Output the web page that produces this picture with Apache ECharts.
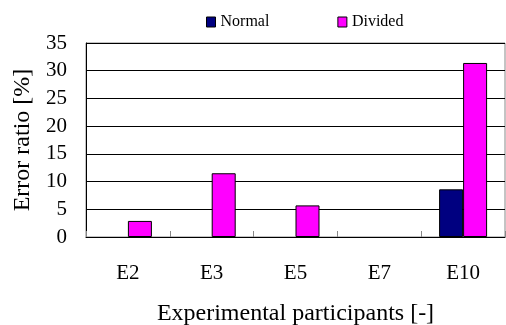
<!DOCTYPE html>
<html>
<head>
<meta charset="utf-8">
<script src="https://cdn.jsdelivr.net/npm/echarts@6/dist/echarts.min.js"></script>
<style>
html,body{margin:0;padding:0;background:#fff;}
#c{width:506px;height:325px;}
</style>
</head>
<body>
<div id="c"></div>
<script>
const categories = ['E2', 'E3', 'E5', 'E7', 'E10'];
const normalValues = [0, 0, 0, 0, 8.6];
const dividedValues = [2.9, 11.5, 5.7, 0, 31.4];
const seriesNames = ['Normal', 'Divided'];

const FONT = "'Liberation Serif', 'Times New Roman', serif";
const chart = echarts.init(document.getElementById('c'), null, {renderer: 'canvas'});
function barData(values) {
  return values.map(v => v === 0 ? {value: 0, itemStyle: {borderWidth: 0, opacity: 0}} : v);
}
chart.setOption({
  animation: false,
  backgroundColor: '#fff',
  textStyle: {fontFamily: FONT},
  legend: {
    data: seriesNames,
    left: 201,
    top: 9,
    icon: 'rect',
    itemWidth: 9,
    itemHeight: 10,
    itemGap: 68,
    textStyle: {fontFamily: FONT, fontSize: 16, color: '#000'},
    itemStyle: {borderColor: '#000', borderWidth: 1}
  },
  grid: {
    left: 86, right: 1, top: 43, bottom: 88,
    containLabel: false,
    outerBoundsMode: 'none',
    show: true, borderColor: '#888', borderWidth: 1, backgroundColor: 'transparent'
  },
  xAxis: {
    type: 'category',
    data: categories,
    name: 'Experimental participants [-]',
    nameLocation: 'middle',
    nameGap: 65,
    nameTextStyle: {fontFamily: FONT, fontSize: 24, color: '#000'},
    axisLine: {lineStyle: {color: '#000', width: 1}},
    axisTick: {show: true, inside: true, length: 6, lineStyle: {color: '#888'}},
    axisLabel: {fontFamily: FONT, fontSize: 21, color: '#000', margin: 26}
  },
  yAxis: {
    type: 'value',
    min: 0, max: 35, interval: 5,
    name: 'Error ratio [%]',
    nameLocation: 'middle',
    nameGap: 50,
    nameTextStyle: {fontFamily: FONT, fontSize: 24, color: '#000'},
    axisLine: {show: true, lineStyle: {color: '#000', width: 1}},
    axisTick: {show: false},
    axisLabel: {fontFamily: FONT, fontSize: 21, color: '#000', margin: 19},
    splitLine: {show: true, lineStyle: {color: '#000', width: 1}}
  },
  series: [
    {
      name: seriesNames[0], type: 'bar', data: barData(normalValues),
      barWidth: 24, barGap: '0%',
      itemStyle: {color: '#000080', borderColor: '#000', borderWidth: 1}
    },
    {
      name: seriesNames[1], type: 'bar', data: barData(dividedValues),
      barWidth: 24, barGap: '0%',
      itemStyle: {color: '#FF00FF', borderColor: '#000', borderWidth: 1}
    }
  ]
});
</script>
</body>
</html>
